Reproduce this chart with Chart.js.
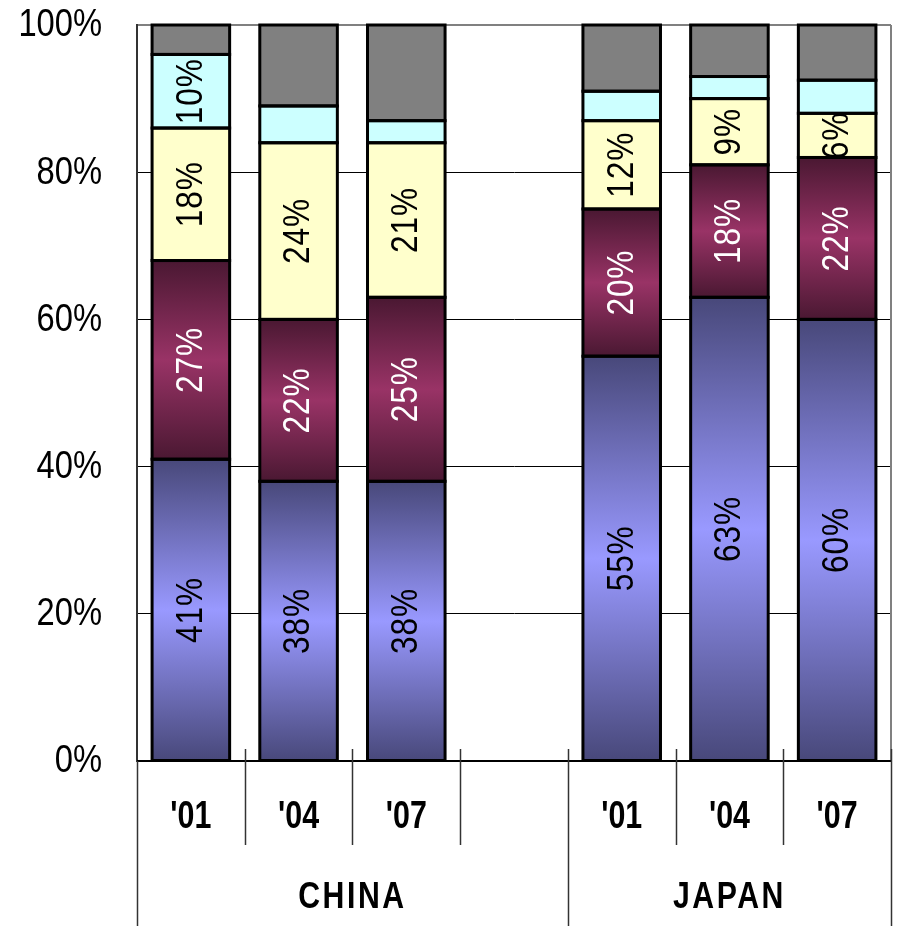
<!DOCTYPE html>
<html>
<head>
<meta charset="utf-8">
<script src="https://cdn.jsdelivr.net/npm/chart.js@4/dist/chart.umd.min.js"></script>
<style>
    html, body { margin: 0; padding: 0; background: #fff; }
    #wrap { width: 899px; height: 926px; position: relative; }
</style>
</head>
<body>
<div id="wrap"><canvas id="chart"></canvas></div>
<script>
const FONT = "'Liberation Sans', Arial, sans-serif";

// ── Datos ────────────────────────────────────────────────────
const categories = ["'01", "'04", "'07", "", "'01", "'04", "'07"];
const groups = ["CHINA", "JAPAN"];
const groupSpans = [[0, 3], [4, 6]]; // índices de inicio/fin de cada grupo
const yTicks = [0, 20, 40, 60, 80, 100];

const serieAzul     = [41, 38, 38, null, 55, 63, 60];
const serieGranate  = [27, 22, 25, null, 20, 18, 22];
const serieAmarilla = [18, 24, 21, null, 12,  9,  6];
const serieCian     = [10,  5,  3, null,  4,  3, 4.5];
const serieGris     = [ 4, 11, 13, null,  9,  7, 7.5];

// qué segmentos llevan etiqueta
const etiquetaCian = [true, false, false, false, false, false, false];

const allSeries = [serieAzul, serieGranate, serieAmarilla, serieCian, serieGris];

// texto estrecho (escala horizontal)
function narrowText(ctx, text, x, y, font, sx, align, spacing) {
    ctx.save();
    ctx.translate(x, y);
    ctx.scale(sx, 1);
    ctx.font = font;
    if (spacing) ctx.letterSpacing = spacing;
    ctx.textAlign = align || "center";
    ctx.textBaseline = "middle";
    ctx.fillText(text, 0, 0);
    ctx.restore();
}

// ── Degradado vertical por segmento (oscuro-claro-oscuro) ───
function segmentGradient(dark, light) {
    return ctx => {
        const chart = ctx.chart;
        const y = chart.scales.y;
        if (!chart.chartArea || !y || ctx.dataIndex === undefined) return light;
        let start = 0;
        for (let d = 0; d < ctx.datasetIndex; d++) start += allSeries[d][ctx.dataIndex] || 0;
        const v = allSeries[ctx.datasetIndex][ctx.dataIndex] || 0;
        const top = y.getPixelForValue(start + v);
        const bottom = y.getPixelForValue(start);
        if (!isFinite(top) || !isFinite(bottom) || top === bottom) return light;
        const g = chart.ctx.createLinearGradient(0, top, 0, bottom);
        g.addColorStop(0, dark);
        g.addColorStop(0.5, light);
        g.addColorStop(1, dark);
        return g;
    };
}

// ── Etiquetas dentro de las barras (giradas) + contorno ─────
const segmentLabels = {
    id: "segmentLabels",
    afterDatasetsDraw(chart) {
        const ctx = chart.ctx;
        chart.data.datasets.forEach((ds, di) => {
            const meta = chart.getDatasetMeta(di);
            meta.data.forEach((bar, i) => {
                const v = ds.data[i];
                if (v == null) return;
                const p = bar.getProps(["x", "y", "base", "width"], true);
                const left = p.x - p.width / 2;
                const top = Math.min(p.y, p.base);
                const h = Math.abs(p.base - p.y);

                const show = ds.labelFlags ? ds.labelFlags[i] : ds.showLabels;
                if (show) {
                    ctx.save();
                    ctx.beginPath();
                    ctx.rect(left, top, p.width, h);
                    ctx.clip();
                    ctx.translate(p.x, top + h / 2);
                    ctx.rotate(-Math.PI / 2);
                    ctx.fillStyle = ds.labelColor;
                    narrowText(ctx, Math.round(v) + "%", 0, 1, "36px " + FONT, 0.88, "center", "1px");
                    ctx.restore();
                }

                ctx.save();
                ctx.strokeStyle = "#000";
                ctx.lineWidth = 3;
                ctx.strokeRect(left, top, p.width, h);
                ctx.restore();
            });
        });
    }
};

// ── Ejes: etiquetas Y y eje X de dos niveles ────────────────
const twoLevelAxis = {
    id: "twoLevelAxis",
    afterDraw(chart) {
        const ctx = chart.ctx;
        const x = chart.scales.x;
        const y = chart.scales.y;
        const area = chart.chartArea;
        const step = (area.right - area.left) / categories.length;
        const base = area.bottom;

        ctx.save();
        ctx.fillStyle = "#000";
        yTicks.forEach(t => {
            narrowText(ctx, t + "%", area.left - 35, y.getPixelForValue(t) + 1, "38px " + FONT, 0.86, "right");
        });

        // borde gris derecho del área
        ctx.strokeStyle = "#808080";
        ctx.lineWidth = 2;
        ctx.beginPath();
        ctx.moveTo(area.right, area.top);
        ctx.lineTo(area.right, base);
        ctx.stroke();

        // línea base
        ctx.strokeStyle = "#000";
        ctx.lineWidth = 2;
        ctx.beginPath();
        ctx.moveTo(area.left, base);
        ctx.lineTo(area.right, base);
        ctx.stroke();

        // separadores
        ctx.lineWidth = 1.5;
        ctx.strokeStyle = "#333";
        const groupEdges = new Set();
        groupSpans.forEach(([a, b]) => { groupEdges.add(a); groupEdges.add(b + 1); });
        for (let k = 0; k <= categories.length; k++) {
            const px = Math.round(area.left + k * step) + 0.5;
            const isGroup = groupEdges.has(k);
            const y0 = k === 0 ? base : base - 12;
            const y1 = isGroup ? 926 : base + 84;
            ctx.beginPath();
            ctx.moveTo(px, y0);
            ctx.lineTo(px, y1);
            ctx.stroke();
        }

        // etiquetas de categoría
        categories.forEach((c, i) => {
            narrowText(ctx, c, x.getPixelForValue(i), base + 57, "bold 38px " + FONT, 0.8);
        });

        // etiquetas de grupo
        groups.forEach((g, gi) => {
            const [a, b] = groupSpans[gi];
            const end = gi === groups.length - 1 ? categories.length : b + 1;
            const cx = area.left + ((a + end) / 2) * step;
            narrowText(ctx, g, cx, base + 137, "bold 36px " + FONT, 0.84, "center", "3px");
        });
        ctx.restore();
    }
};

new Chart(document.getElementById("chart"), {
    type: "bar",
    data: {
        labels: categories,
        datasets: [
            { label: "A", data: serieAzul, backgroundColor: segmentGradient("#48487a", "#9999ff"), showLabels: true, labelColor: "#000" },
            { label: "B", data: serieGranate, backgroundColor: segmentGradient("#4a1832", "#993366"), showLabels: true, labelColor: "#fff" },
            { label: "C", data: serieAmarilla, backgroundColor: "#ffffcc", showLabels: true, labelColor: "#000" },
            { label: "D", data: serieCian, backgroundColor: "#ccffff", labelFlags: etiquetaCian, labelColor: "#000" },
            { label: "E", data: serieGris, backgroundColor: "#808080", showLabels: false, labelColor: "#000" }
        ].map(d => ({ ...d, borderWidth: 0, barPercentage: 1, categoryPercentage: 0.72 }))
    },
    options: {
        responsive: true,
        maintainAspectRatio: false,
        animation: false,
        layout: { padding: { top: 25, right: 8, bottom: 165, left: 0 } },
        plugins: { legend: { display: false }, tooltip: { enabled: false } },
        scales: {
            x: {
                display: false,
                stacked: true,
                offset: true
            },
            y: {
                stacked: true,
                min: 0,
                max: 100,
                afterFit(scale) { scale.width = 137; },
                afterBuildTicks(scale) { scale.ticks = yTicks.map(v => ({ value: v })); },
                grid: {
                    color: c => c.tick && c.tick.value === 100 ? "#808080" : "#000",
                    lineWidth: c => c.tick && c.tick.value === 100 ? 2 : 1,
                    drawTicks: false
                },
                border: { color: "#333", width: 2 },
                ticks: { display: false }
            }
        }
    },
    plugins: [segmentLabels, twoLevelAxis]
});
</script>
</body>
</html>
